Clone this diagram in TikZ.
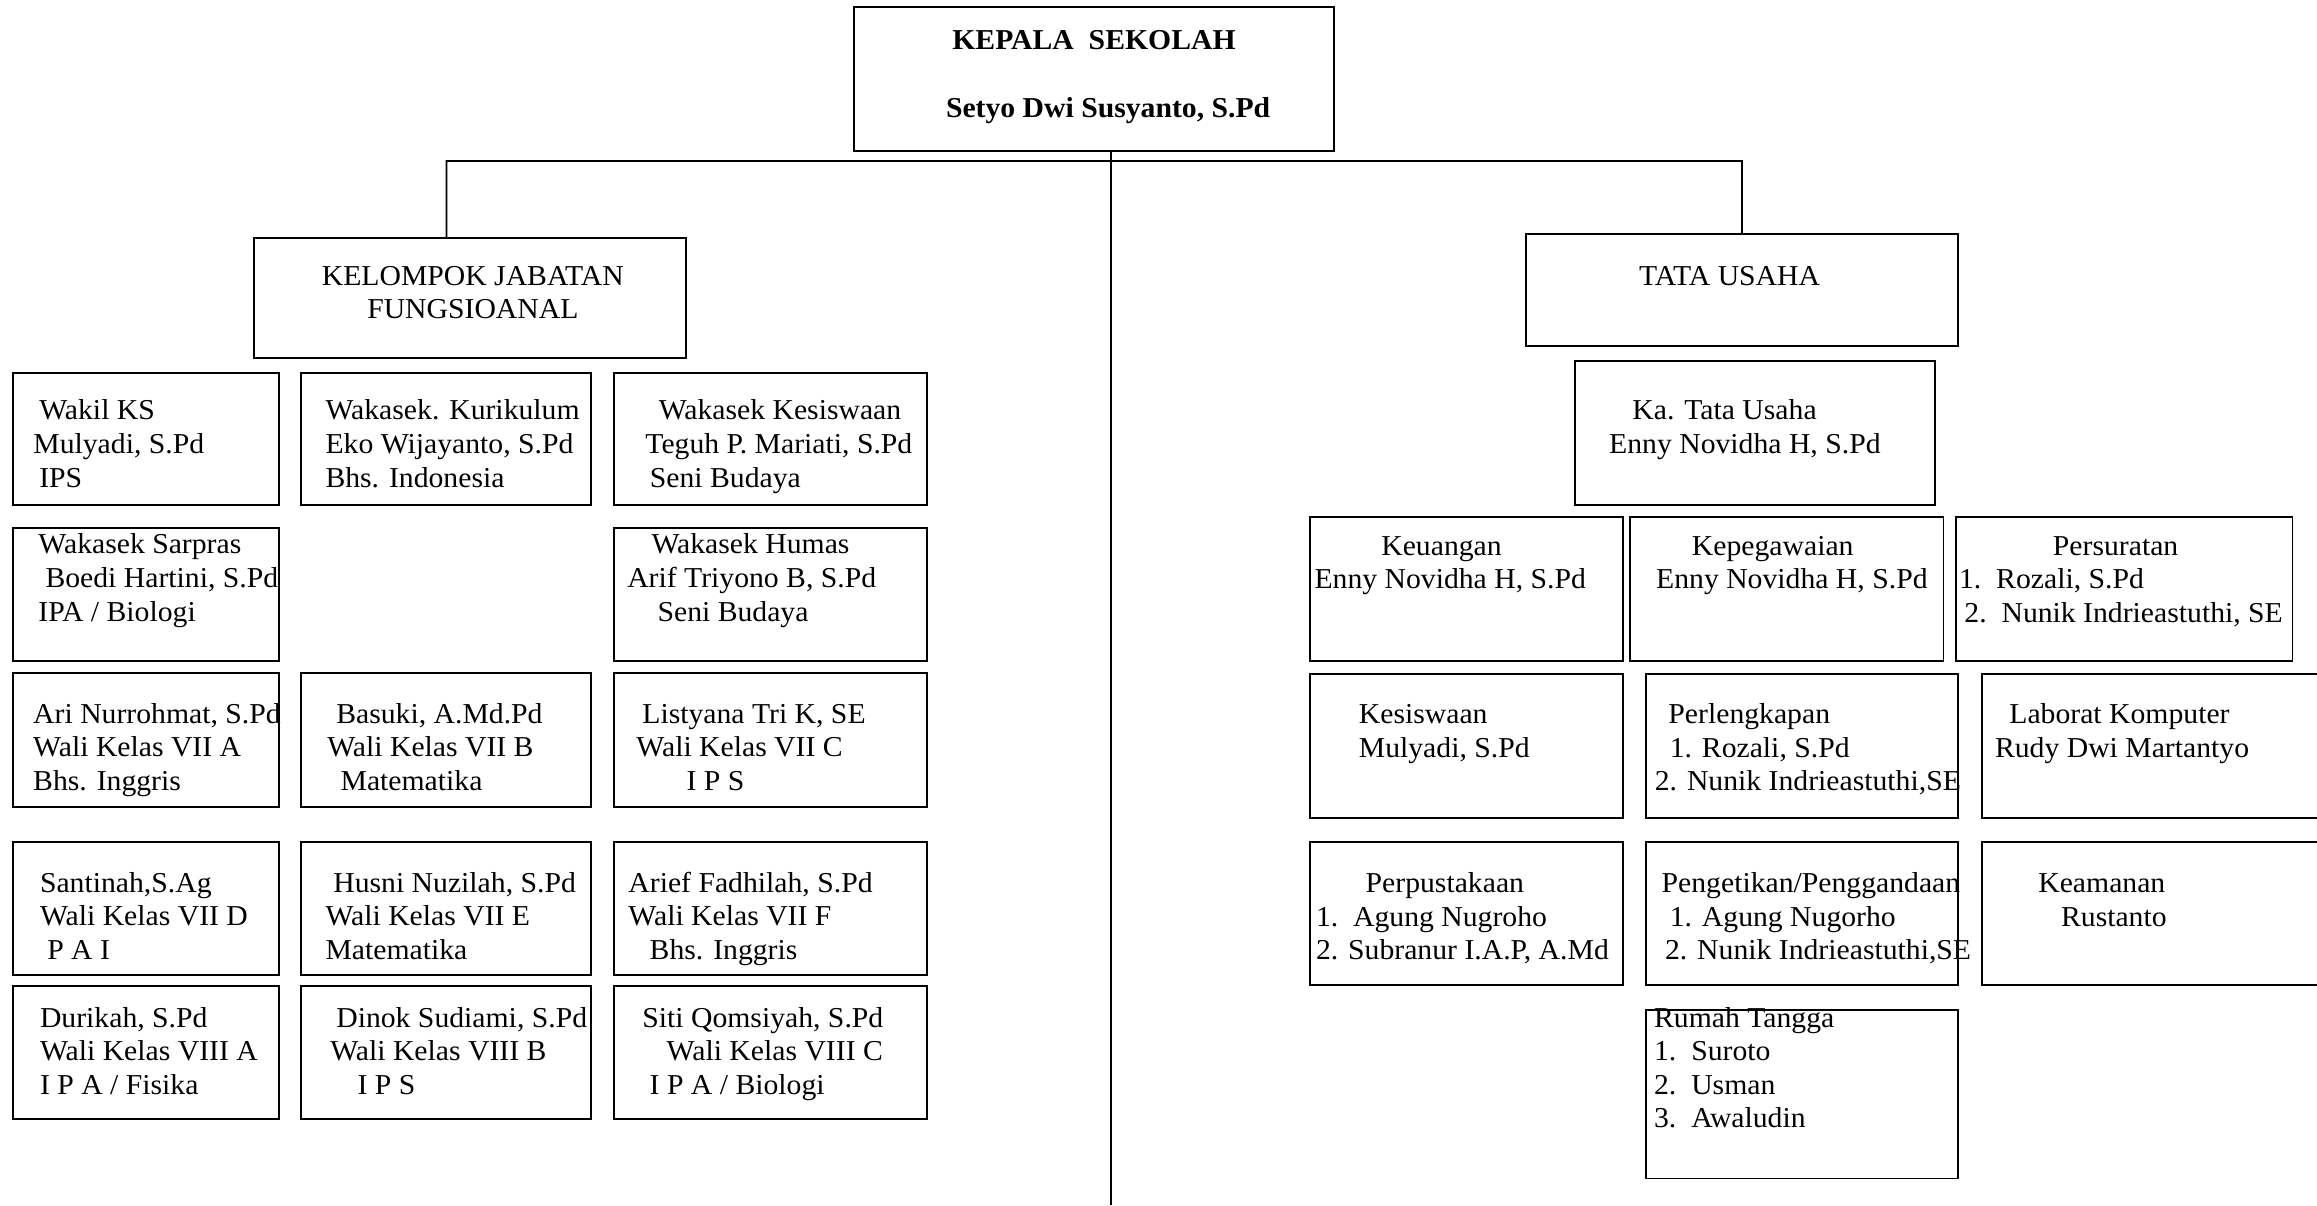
\documentclass[tikz,border=0pt]{standalone}
\usepackage{fontspec}
\setmainfont{Liberation Serif}[FakeStretch=1.03]
\usetikzlibrary{fit}
\newlength\myu
\setlength\myu{0.014777cm}
\newcommand\indt[1]{\hspace*{#1\myu}}
\newcommand\firststrut{\rule{0pt}{7pt}}
\newcommand\orgbox[5]{\node[boxst, fit={(#2,#3) (#4,#5)}] (#1) {};}
\newcommand\orgtext[4]{\node[otxt] (#1) at (#2,#3) {\firststrut#4};}
\tikzset{
  boxst/.style={draw, line width=0.55pt, inner sep=0pt, outer sep=0pt},
  otxt/.style={anchor=north west, inner sep=0pt, outer sep=0pt, align=left,
    font=\fontsize{8.2}{9.56}\selectfont, yshift=7pt},
  link/.style={line width=0.5pt},
}
\begin{document}
\begin{tikzpicture}[x=0.014777cm, y=-0.014777cm]
\useasboundingbox (0,0) rectangle (1568,815.5);
\begin{scope}
\clip (0,0) rectangle (1568,815.5);
% top
\orgbox{kepala}{578}{4.9}{902.8}{102}
\node[otxt, font=\fontsize{8.2}{9.56}\selectfont\bfseries] (kepalat) at (640.2,33.8)
  {\firststrut\indt{4.3}KEPALA\ \ SEKOLAH\\[9.56pt]Setyo Dwi Susyanto, S.Pd};
\orgbox{kjf}{172.2}{160.8}{464}{242.5}
\node[otxt, anchor=north, align=center] (kjft) at (320,192.9)
  {\firststrut KELOMPOK JABATAN\\FUNGSIOANAL};
\orgbox{tu}{1032.4}{158.6}{1325.3}{234.2}
\orgtext{tut}{1109.3}{192.9}{TATA USAHA}
% connectors
\coordinate (jl) at (302.1,109);
\coordinate (jr) at (1178.9,109);
\coordinate (trunkend) at (751.9,815.5);
\draw[link] (jl |- kjf.north) -- (jl) -- (jr) -- (tu.north);
\draw[link] (trunkend |- kepala.south) -- (trunkend);
% left grid
\orgbox{wks}{9}{252.2}{188.5}{341.8}
\orgtext{wkst}{22.6}{284.2}{\indt{4}Wakil KS\\Mulyadi, S.Pd\\\indt{4}IPS}
\orgbox{wkur}{204}{252.2}{400}{341.8}
\orgtext{wkurt}{220.3}{284.2}{Wakasek. Kurikulum\\Eko Wijayanto, S.Pd\\Bhs. Indonesia}
\orgbox{wkes}{415.5}{252.2}{627.5}{341.8}
\orgtext{wkest}{436.8}{284.2}{\indt{9}Wakasek Kesiswaan\\Teguh P. Mariati, S.Pd\\\indt{3}Seni Budaya}
\orgbox{wsar}{9}{357}{188.5}{447.3}
\orgtext{wsart}{26}{374.9}{Wakasek Sarpras\\\indt{4.8}Boedi Hartini, S.Pd\\IPA / Biologi}
\orgbox{whum}{415.5}{357}{627.5}{447.3}
\orgtext{whumt}{424.5}{374.9}{\indt{16.4}Wakasek Humas\\Arif Triyono B, S.Pd\\\indt{20.5}Seni Budaya}
\orgbox{a7}{9}{455.7}{188.5}{546.3}
\orgtext{a7t}{22.5}{489.5}{Ari Nurrohmat, S.Pd\\Wali Kelas VII A\\Bhs. Inggris}
\orgbox{b7}{204}{455.7}{400}{546.3}
\orgtext{b7t}{221.5}{489.5}{\indt{6.1}Basuki, A.Md.Pd\\Wali Kelas VII B\\\indt{9}Matematika}
\orgbox{c7}{415.5}{455.7}{627.5}{546.3}
\orgtext{c7t}{430.7}{489.5}{\indt{4}Listyana Tri K, SE\\Wali Kelas VII C\\\indt{34}I P S}
\orgbox{d7}{9}{570}{188.5}{659.6}
\orgtext{d7t}{27.1}{603.9}{Santinah,S.Ag\\Wali Kelas VII D\\\indt{4.9}P A I}
\orgbox{e7}{204}{570}{400}{659.6}
\orgtext{e7t}{220.3}{603.9}{\indt{5.3}Husni Nuzilah, S.Pd\\Wali Kelas VII E\\Matematika}
\orgbox{f7}{415.5}{570}{627.5}{659.6}
\orgtext{f7t}{425.3}{603.9}{Arief Fadhilah, S.Pd\\Wali Kelas VII F\\\indt{14.4}Bhs. Inggris}
\orgbox{a8}{9}{667.2}{188.5}{757.2}
\orgtext{a8t}{27.1}{695.2}{Durikah, S.Pd\\Wali Kelas VIII A\\I P A / Fisika}
\orgbox{b8}{204}{667.2}{400}{757.2}
\orgtext{b8t}{223.5}{695.2}{\indt{4.1}Dinok Sudiami, S.Pd\\Wali Kelas VIII B\\\indt{18.5}I P S}
\orgbox{c8}{415.5}{667.2}{627.5}{757.2}
\orgtext{c8t}{434.7}{695.2}{Siti Qomsiyah, S.Pd\\\indt{16.5}Wali Kelas VIII C\\\indt{5}I P A / Biologi}
% right side
\orgbox{katu}{1065.6}{244.5}{1309.2}{341.7}
\orgtext{katut}{1089}{284.2}{\indt{15.7}Ka. Tata Usaha\\Enny Novidha H, S.Pd}
\orgbox{keu}{886.4}{349.6}{1098.3}{447.5}
\orgtext{keut}{889.6}{375.6}{\indt{45.2}Keuangan\\Enny Novidha H, S.Pd}
\orgbox{kep}{1103.3}{349.6}{1315.2}{447.5}
\orgtext{kept}{1120.8}{375.6}{\indt{24.2}Kepegawaian\\Enny Novidha H, S.Pd}
\orgbox{pers}{1323.5}{349.6}{1551.4}{447.5}
\orgtext{perst}{1325.8}{375.6}{\indt{63.5}Persuratan\\1.\ \ Rozali, S.Pd\\\indt{3.6}2.\ \ Nunik Indrieastuthi, SE}
\orgbox{kesis}{886.4}{456.2}{1098.3}{553.5}
\orgtext{kesist}{919.6}{489.7}{Kesiswaan\\Mulyadi, S.Pd}
\orgbox{perl}{1114}{456.2}{1325.3}{553.5}
\orgtext{perlt}{1119.9}{489.7}{\indt{9.2}Perlengkapan\\\indt{10.1}1. Rozali, S.Pd\\2. Nunik Indrieastuthi,SE}
\orgbox{lab}{1341.5}{456.2}{1620}{553.5}
\orgtext{labt}{1350.1}{489.7}{\indt{9.7}Laborat Komputer\\Rudy Dwi Martantyo}
\orgbox{perp}{886.4}{569.9}{1098.3}{666.8}
\orgtext{perpt}{890.6}{604}{\indt{33.6}Perpustakaan\\1.\ \ Agung Nugroho\\2. Subranur I.A.P, A.Md}
\orgbox{peng}{1114}{569.9}{1325.3}{666.8}
\orgtext{pengt}{1124.5}{604}{Pengetikan/Penggandaan\\\indt{5.5}1. Agung Nugorho\\\indt{2.3}2. Nunik Indrieastuthi,SE}
\orgbox{keam}{1341.5}{569.9}{1620}{666.8}
\orgtext{keamt}{1379.4}{604}{Keamanan\\\indt{15.4}Rustanto}
\orgbox{rt}{1114}{683.5}{1325.3}{797.5}
\orgtext{rtt}{1119.4}{695}{Rumah Tangga\\1.\ \ Suroto\\2.\ \ Usman\\3.\ \ Awaludin}
\end{scope}
\end{tikzpicture}
\end{document}
